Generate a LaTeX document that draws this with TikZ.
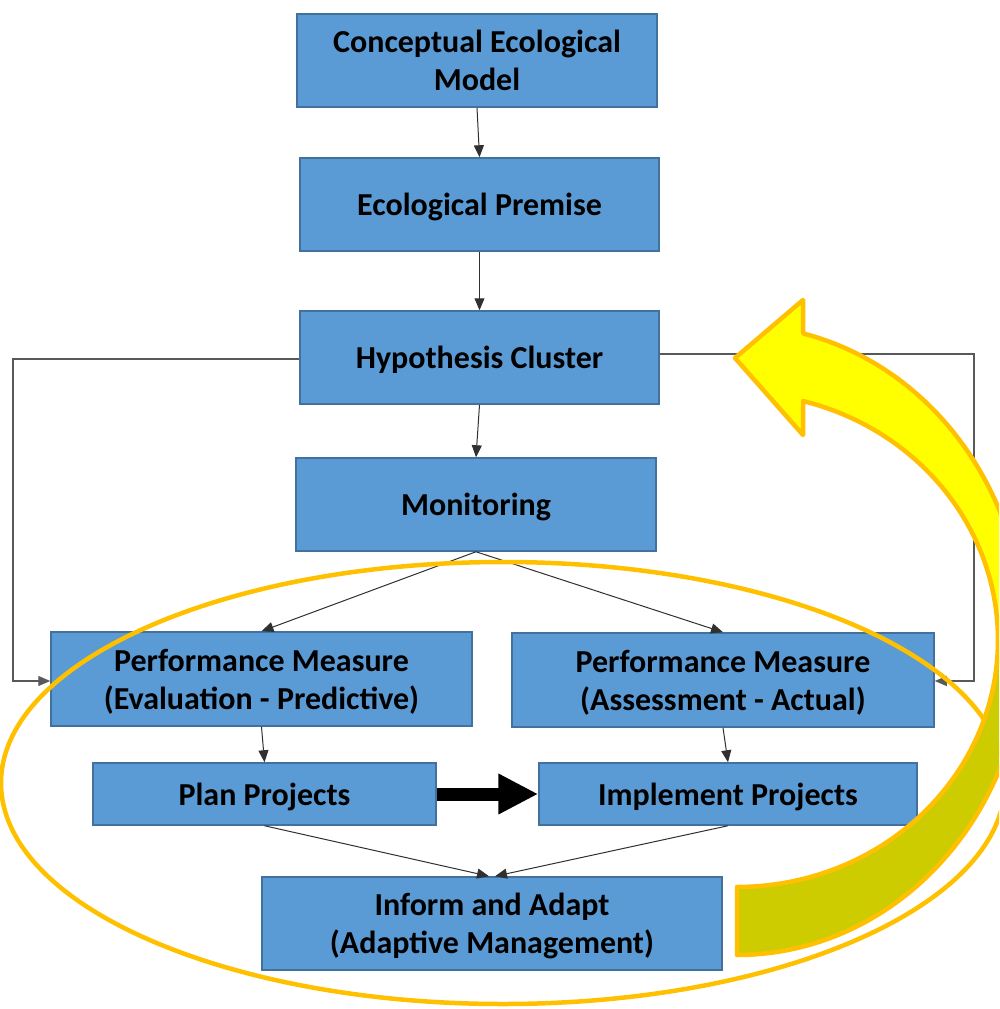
\documentclass[tikz,border=0pt]{standalone}
\usepackage{fontspec}
\setmainfont{Carlito}
\usetikzlibrary{arrows.meta}
\definecolor{boxfill}{HTML}{5B9BD5}
\definecolor{boxline}{HTML}{41719C}
\definecolor{connline}{HTML}{303030}
\definecolor{loopgray}{HTML}{595959}
\definecolor{gold}{HTML}{FFC000}
\definecolor{brightyellow}{HTML}{FFFF00}
\definecolor{olive}{HTML}{CCCC00}
\newcommand{\boxtext}[1]{\raisebox{-3.5pt}[\height][\depth]{\begin{tabular}{@{}c@{}}#1\end{tabular}}}
\tikzset{
  box/.style={draw=boxline, fill=boxfill, line width=1.5pt, inner sep=0pt,
    font=\bfseries\fontsize{32}{38}\selectfont, text=black},
  conn/.style={draw=connline, line width=1pt, -{Triangle[length=12pt,width=10pt]}},
  loopline/.style={draw=loopgray, line width=1.2pt, -{Triangle[length=12pt,width=10pt]}},
  bigarrow/.style={draw=black, line width=13pt, -{Triangle[length=40pt,width=38pt]}},
  ring/.style={draw=gold, line width=4.5pt},
  bandline/.style={draw=gold, line width=4.5pt, line join=round}
}
\begin{document}
\begin{tikzpicture}[x=1pt,y=-1pt]
\useasboundingbox (0,0) rectangle (999,1009);
\clip (0,0) rectangle (999,1009);
% boxes
\node[box, minimum width=360, minimum height=93] (cem) at (477,60.5) {\boxtext{Conceptual Ecological\\Model}};
\node[box, minimum width=359, minimum height=93] (ep) at (479.5,204.5) {\boxtext{Ecological Premise}};
\node[box, minimum width=359, minimum height=93] (hc) at (479.5,357.5) {\boxtext{Hypothesis Cluster}};
\node[box, minimum width=360, minimum height=93] (mon) at (476,504.5) {\boxtext{Monitoring}};
\node[box, minimum width=421, minimum height=94] (pe) at (261.5,679) {\boxtext{Performance Measure\\(Evaluation - Predictive)}};
\node[box, minimum width=422, minimum height=94] (pa) at (723,680) {\boxtext{Performance Measure\\(Assessment - Actual)}};
\node[box, minimum width=343, minimum height=62] (plan) at (264.5,794) {\boxtext{Plan Projects}};
\node[box, minimum width=378, minimum height=62] (impl) at (728,794) {\boxtext{Implement Projects}};
\node[box, minimum width=460, minimum height=93] (inf) at (492,923.5) {\boxtext{Inform and Adapt\\(Adaptive Management)}};
% helper coordinates
\coordinate (lx) at (13,0);
\coordinate (rx) at (974,0);
% connectors
\draw[conn] (cem.south) -- (ep.north);
\draw[conn] (ep.south) -- (hc.north);
\draw[conn] (hc.south) -- (mon.north);
\draw[conn] (mon.south) -- (pe.north);
\draw[conn] (mon.south) -- (pa.north);
\draw[conn] (pe.south) -- (plan.north);
\draw[conn] (pa.south) -- (impl.north);
\draw[conn] (plan.south) -- ([xshift=-3pt]inf.north);
\draw[conn] (impl.south) -- ([xshift=3pt]inf.north);
\draw[loopline] ([yshift=-1.5pt]hc.west) -- ([yshift=-1.5pt]hc.west -| lx) |- ([yshift=-2pt]pe.west);
\draw[loopline] ([yshift=3.5pt]hc.east) -- ([yshift=3.5pt]hc.east -| rx) |- ([yshift=-1pt]pa.east);
\draw[bigarrow] (plan.east) -- (impl.east -| impl.west);
% ellipse
\draw[ring] (503,783) ellipse [x radius=502, y radius=221];
% curved block arrow
\fill[olive] (737,955) -- plot[domain=90:0, samples=50, variable=\t] ({737+288*cos(\t)},{640+315*sin(\t)})
  -- plot[domain=0:90, samples=50, variable=\t] ({737+261*cos(\t)},{640+247*sin(\t)}) -- cycle;
\fill[brightyellow] (1025,640) -- plot[domain=0:-76.7, samples=50, variable=\t] ({737+288*cos(\t)},{640+315*sin(\t)})
  -- (803,300) -- (735,358) -- (803,435) -- (803,401)
  -- plot[domain=-75.35:0, samples=50, variable=\t] ({737+261*cos(\t)},{640+247*sin(\t)}) -- cycle;
\draw[bandline] (737,955) -- plot[domain=90:-76.7, samples=100, variable=\t] ({737+288*cos(\t)},{640+315*sin(\t)})
  -- (803,300) -- (735,358) -- (803,435) -- (803,401)
  -- plot[domain=-75.35:90, samples=100, variable=\t] ({737+261*cos(\t)},{640+247*sin(\t)}) -- cycle;
\end{tikzpicture}
\end{document}
